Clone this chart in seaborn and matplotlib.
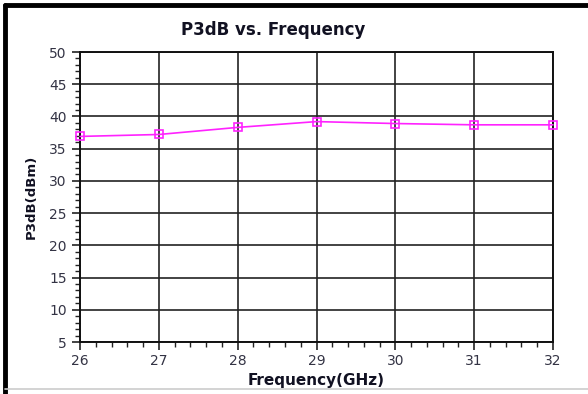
import matplotlib
matplotlib.use("Agg")
import matplotlib.pyplot as plt
from matplotlib.ticker import MultipleLocator
from matplotlib.lines import Line2D
import seaborn as sns
import pandas as pd

freq_ghz = [26, 27, 28, 29, 30, 31, 32]
p3db_dbm = [36.9, 37.2, 38.3, 39.2, 38.9, 38.7, 38.7]
x_ticks = [26, 27, 28, 29, 30, 31, 32]
y_ticks = [5, 10, 15, 20, 25, 30, 35, 40, 45, 50]

sns.set_style("white")
plt.rcParams['font.family'] = ['DejaVu Sans']

df = pd.DataFrame({"freq": freq_ghz, "p3db": p3db_dbm})

fig = plt.figure(figsize=(5.88, 3.94), dpi=100)
ax = fig.add_axes([80/588, 1-342/394, (553-80)/588, (342-52)/394])

sns.lineplot(data=df, x="freq", y="p3db", ax=ax, color="#ff22ff", linewidth=1.2,
             marker="s", markersize=6, markerfacecolor="none",
             markeredgecolor="#ff22ff", markeredgewidth=1.2, zorder=5, clip_on=False)

ax.set_xlim(26, 32)
ax.set_ylim(5, 50)
ax.set_xticks(x_ticks)
ax.set_yticks(y_ticks)
ax.xaxis.set_minor_locator(MultipleLocator(0.2))
ax.yaxis.set_minor_locator(MultipleLocator(1))
ax.grid(True, which="major", color="#222222", linewidth=1.2)
ax.set_axisbelow(True)
for s in ax.spines.values():
    s.set_color("#111111")
    s.set_linewidth(1.4)

ax.tick_params(axis="x", which="both", bottom=True)
ax.tick_params(axis="y", which="both", left=True)
ax.tick_params(axis="both", which="major", direction="out", length=6, width=1.2,
               color="#222222", labelsize=10, labelcolor="#333344")
ax.tick_params(axis="x", which="major", pad=2.5)
ax.tick_params(axis="y", which="major", pad=3.5)
ax.tick_params(axis="both", which="minor", direction="out", length=3.5, width=1.0,
               color="#222222")

ax.set_xlabel("Frequency(GHz)", fontsize=11, fontweight="bold", color="#111122", labelpad=3.5)
ax.set_ylabel("P3dB(dBm)", fontsize=9.5, fontweight="bold", color="#111122", labelpad=8)

fig.text(273/588, 1-30/394, "P3dB vs. Frequency", ha="center", va="center",
         fontsize=12, fontweight="bold", color="#111122")

# outer frame
fig.add_artist(Line2D([5/588, 1.0], [1-5/394, 1-5/394], transform=fig.transFigure,
                      color="black", linewidth=3.5))
fig.add_artist(Line2D([5/588, 5/588], [0, 1-5/394], transform=fig.transFigure,
                      color="black", linewidth=3.5))
fig.add_artist(Line2D([5/588, 1.0], [1-389/394, 1-389/394], transform=fig.transFigure,
                      color="#cccccc", linewidth=1.2))

fig.savefig("out.png", dpi=100)
